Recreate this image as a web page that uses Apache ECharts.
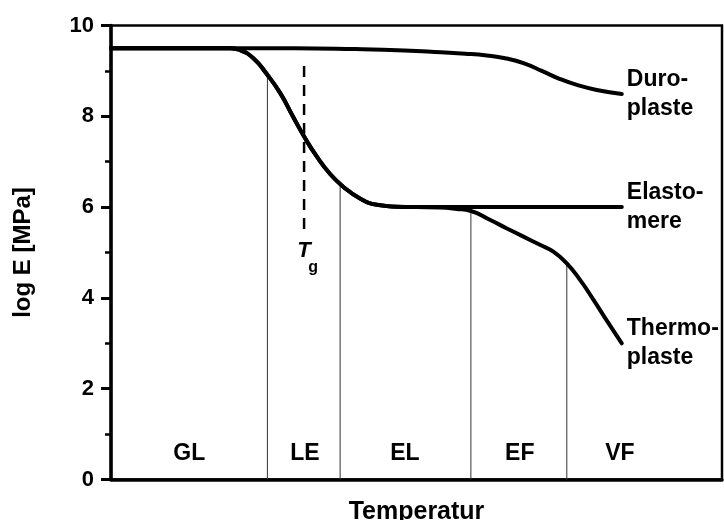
<!DOCTYPE html>
<html>
<head>
<meta charset="utf-8">
<script src="https://cdn.jsdelivr.net/npm/echarts@6/dist/echarts.min.js"></script>
<style>html,body{margin:0;padding:0;background:#fff}#c{width:724px;height:520px}</style>
</head>
<body>
<div id="c"></div>
<script>
// Curves: [temperature (arbitrary 0..100), log E]
const duroplaste = [[0,9.5],[15,9.5],[30,9.5],[40,9.48],[48,9.45],[54,9.41],[58,9.38],[61.5,9.34],[64.5,9.28],[67.5,9.17],[70.5,9.0],[73.5,8.82],[76.5,8.68],[79.5,8.58],[83.6,8.49]];
const elastomere = [[0,9.5],[19.5,9.5],[21.1,9.46],[23.3,9.28],[25.5,8.93],[27.7,8.51],[29.8,7.99],[31.75,7.52],[33.7,7.11],[35.8,6.74],[38.0,6.45],[40.75,6.19],[43.5,6.05],[46.8,6.01],[50,6.0],[83.6,6.0]];
const thermoplaste = [[0,9.5],[19.5,9.5],[21.1,9.46],[23.3,9.28],[25.5,8.93],[27.7,8.51],[29.8,7.99],[31.75,7.52],[33.7,7.11],[35.8,6.74],[38.0,6.45],[40.75,6.19],[43.5,6.05],[46.8,6.01],[50,6.0],[53.8,5.99],[56.6,5.96],[58.8,5.92],[62.0,5.72],[64.8,5.53],[67.5,5.35],[70.2,5.17],[72.4,5.02],[74.6,4.76],[76.8,4.39],[79.0,3.95],[81.1,3.51],[83.6,3.0]];
const curveNames = ['Duro-\nplaste','Elasto-\nmere','Thermo-\nplaste'];
// Region boundaries (x) and the height where they meet the curve
const boundaryX = [25.6, 37.5, 58.9, 74.6];
const boundaryTop = [8.89, 6.49, 5.96, 4.79];
// Region labels
const regionNames = ['GL','LE','EL','EF','VF'];
const regionCenters = [12.8, 31.75, 48.1, 66.9, 83.3];
const regionLabelY = 0.58;
// Glass transition temperature marker
const tgX = 31.6;
const tgRange = [9.11, 5.39];
// Y tick values
const yTicks = [0,2,4,6,8,10];

const font = '"Liberation Sans", Arial, sans-serif';
const chart = echarts.init(document.getElementById('c'));

const series = [];
[duroplaste, elastomere, thermoplaste].forEach((d, i) => {
  series.push({
    type: 'line', data: d, smooth: 0.5, showSymbol: false, symbol: 'none',
    lineStyle: {color: '#000', width: 4, cap: 'round'},
    z: 5,
    endLabel: {show: true, formatter: curveNames[i], distance: 5, color: '#000',
      fontFamily: font, fontWeight: 'bold', fontSize: 23, lineHeight: 29, align: 'left'}
  });
});
boundaryX.forEach((x, i) => {
  series.push({type: 'line', data: [[x, 0], [x, boundaryTop[i]]], showSymbol: false, symbol: 'none',
    lineStyle: {color: '#333', width: 1}, z: 2});
});
series.push({type: 'line', data: [[tgX, tgRange[0]], [tgX, tgRange[1]]], showSymbol: false, symbol: 'none',
  lineStyle: {color: '#000', width: 2.5, type: [11, 8]}, z: 3});
const txt = {color: '#000', fontFamily: font, fontWeight: 'bold', opacity: 1};
series.push({type: 'scatter', symbolSize: 0, silent: true, itemStyle: {opacity: 1},
  data: regionNames.map((n, i) => ({name: n, value: [regionCenters[i], regionLabelY]})),
  label: Object.assign({show: true, position: 'inside', formatter: '{b}', fontSize: 23}, txt)});
series.push({type: 'scatter', symbolSize: 0, silent: true, itemStyle: {opacity: 1},
  data: [{name: 'T', value: [tgX, 5.03]}],
  label: Object.assign({show: true, position: 'inside', formatter: 'T', fontStyle: 'italic', fontSize: 22}, txt)});
series.push({type: 'scatter', symbolSize: 0, silent: true, itemStyle: {opacity: 1},
  data: [{name: 'g', value: [tgX + 1.5, 4.66]}],
  label: Object.assign({show: true, position: 'inside', formatter: 'g', fontSize: 16}, txt)});

chart.setOption({
  animation: false,
  backgroundColor: '#fff',
  grid: {left: 111, right: 2, top: 25.5, bottom: 40.5, show: true, borderColor: '#000', borderWidth: 2.5,
    containLabel: false, outerBoundsMode: 'none'},
  xAxis: {type: 'value', min: 0, max: 100,
    name: 'Temperatur', nameLocation: 'middle', nameGap: 20,
    nameTextStyle: {color: '#000', fontFamily: font, fontWeight: 'bold', fontSize: 25},
    axisLine: {show: true, lineStyle: {color: '#000', width: 3.5}},
    axisTick: {show: false}, axisLabel: {show: false}, splitLine: {show: false}},
  yAxis: {type: 'value', min: 0, max: 10, interval: 2,
    name: 'log E [MPa]', nameLocation: 'middle', nameGap: 76, nameRotate: 90,
    nameTextStyle: {color: '#000', fontFamily: font, fontWeight: 'bold', fontSize: 24},
    axisLine: {show: true, lineStyle: {color: '#000', width: 3.5}},
    axisTick: {show: true, inside: false, length: 10, lineStyle: {color: '#000', width: 3}},
    minorTick: {show: true, splitNumber: 2, length: 6, lineStyle: {color: '#000', width: 2.5}},
    axisLabel: {color: '#000', fontFamily: font, fontWeight: 'bold', fontSize: 22, margin: 17,
      formatter: v => yTicks.includes(v) ? String(v) : ''},
    splitLine: {show: false}, minorSplitLine: {show: false}},
  series: series
});
</script>
</body>
</html>
